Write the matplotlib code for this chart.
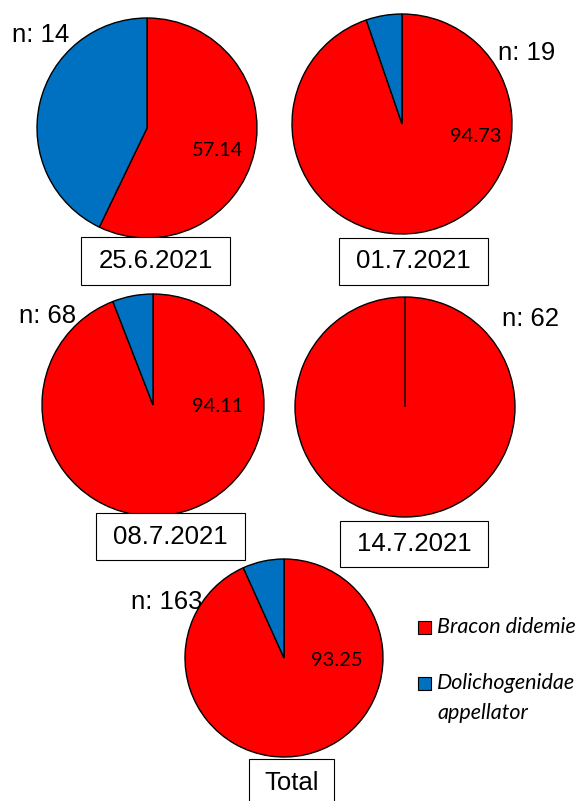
import matplotlib.pyplot as plt
from matplotlib.patches import Rectangle

# sampling dates and their parasitoid shares (%)
dates = ['25.6.2021', '01.7.2021', '08.7.2021', '14.7.2021', 'Total']
n_hosts = [14, 19, 68, 62, 163]
bracon = [57.14, 94.73, 94.11, 100.0, 93.25]
dolicho = [42.86, 5.27, 5.89, 0.0, 6.75]
species = ['Bracon didemie', 'Dolichogenidae\nappellator']
colors = ['#ff0000', '#0070c0']

W, H = 584, 801

# layout in pixels from top-left: pie centre/radius, value label offset, n label, date box
pie_pos = [(147, 128, 110), (402, 124, 110), (153, 405, 111), (405, 407, 110), (284, 658, 99)]
val_off = [(71, 22), (74, 13), (65, 2), None, (53, 2)]
n_pos = [(12, 35), (498, 53), (19, 316), (502, 319), (131, 602)]
box_pos = [(81, 237, 149, 48), (339, 238, 149, 47), (96, 513, 149, 47),
           (340, 521, 148, 46), (249, 759, 85, 48)]

plt.rcParams['font.family'] = ['Liberation Sans', 'DejaVu Sans']

fig = plt.figure(figsize=(W / 100, H / 100), dpi=100)
ax = fig.add_axes([0, 0, 1, 1])

for i in range(len(dates)):
    cx, cy, r = pie_pos[i]
    ax.pie([bracon[i], dolicho[i]], colors=colors, startangle=90, counterclock=False,
           center=(cx, H - cy), radius=r,
           wedgeprops=dict(edgecolor='black', linewidth=1.0))
    if val_off[i] is not None:
        dx, dy = val_off[i]
        ax.text(cx + dx, H - cy - dy, f'{bracon[i]:.2f}', ha='center', va='center',
                fontsize=14.5, family='Lato', color='black')
    nx, ny = n_pos[i]
    ax.text(nx, H - ny, f'n: {n_hosts[i]}', ha='left', va='center', fontsize=18.5,
            zorder=0.5)
    bx, by, bw, bh = box_pos[i]
    ax.add_patch(Rectangle((bx, H - by - bh), bw, bh, facecolor='white',
                           edgecolor='black', linewidth=0.8))
    ax.text(bx + bw / 2, H - by - bh / 2, dates[i], ha='center', va='center',
            fontsize=18.5)

# legend
for y, col in [(627, colors[0]), (683, colors[1])]:
    ax.add_patch(Rectangle((418, H - y - 6.5), 13, 13, facecolor=col,
                           edgecolor='black', linewidth=0.8))
ax.text(437, H - 627, species[0], ha='left', va='center', fontsize=15.5,
        family='Lato', style='italic')
ax.text(437, H - 698, species[1], ha='left', va='center', fontsize=15.5,
        family='Lato', style='italic', linespacing=1.6)

ax.set_xlim(0, W)
ax.set_ylim(0, H)
ax.axis('off')

fig.savefig('out.png', dpi=100)
